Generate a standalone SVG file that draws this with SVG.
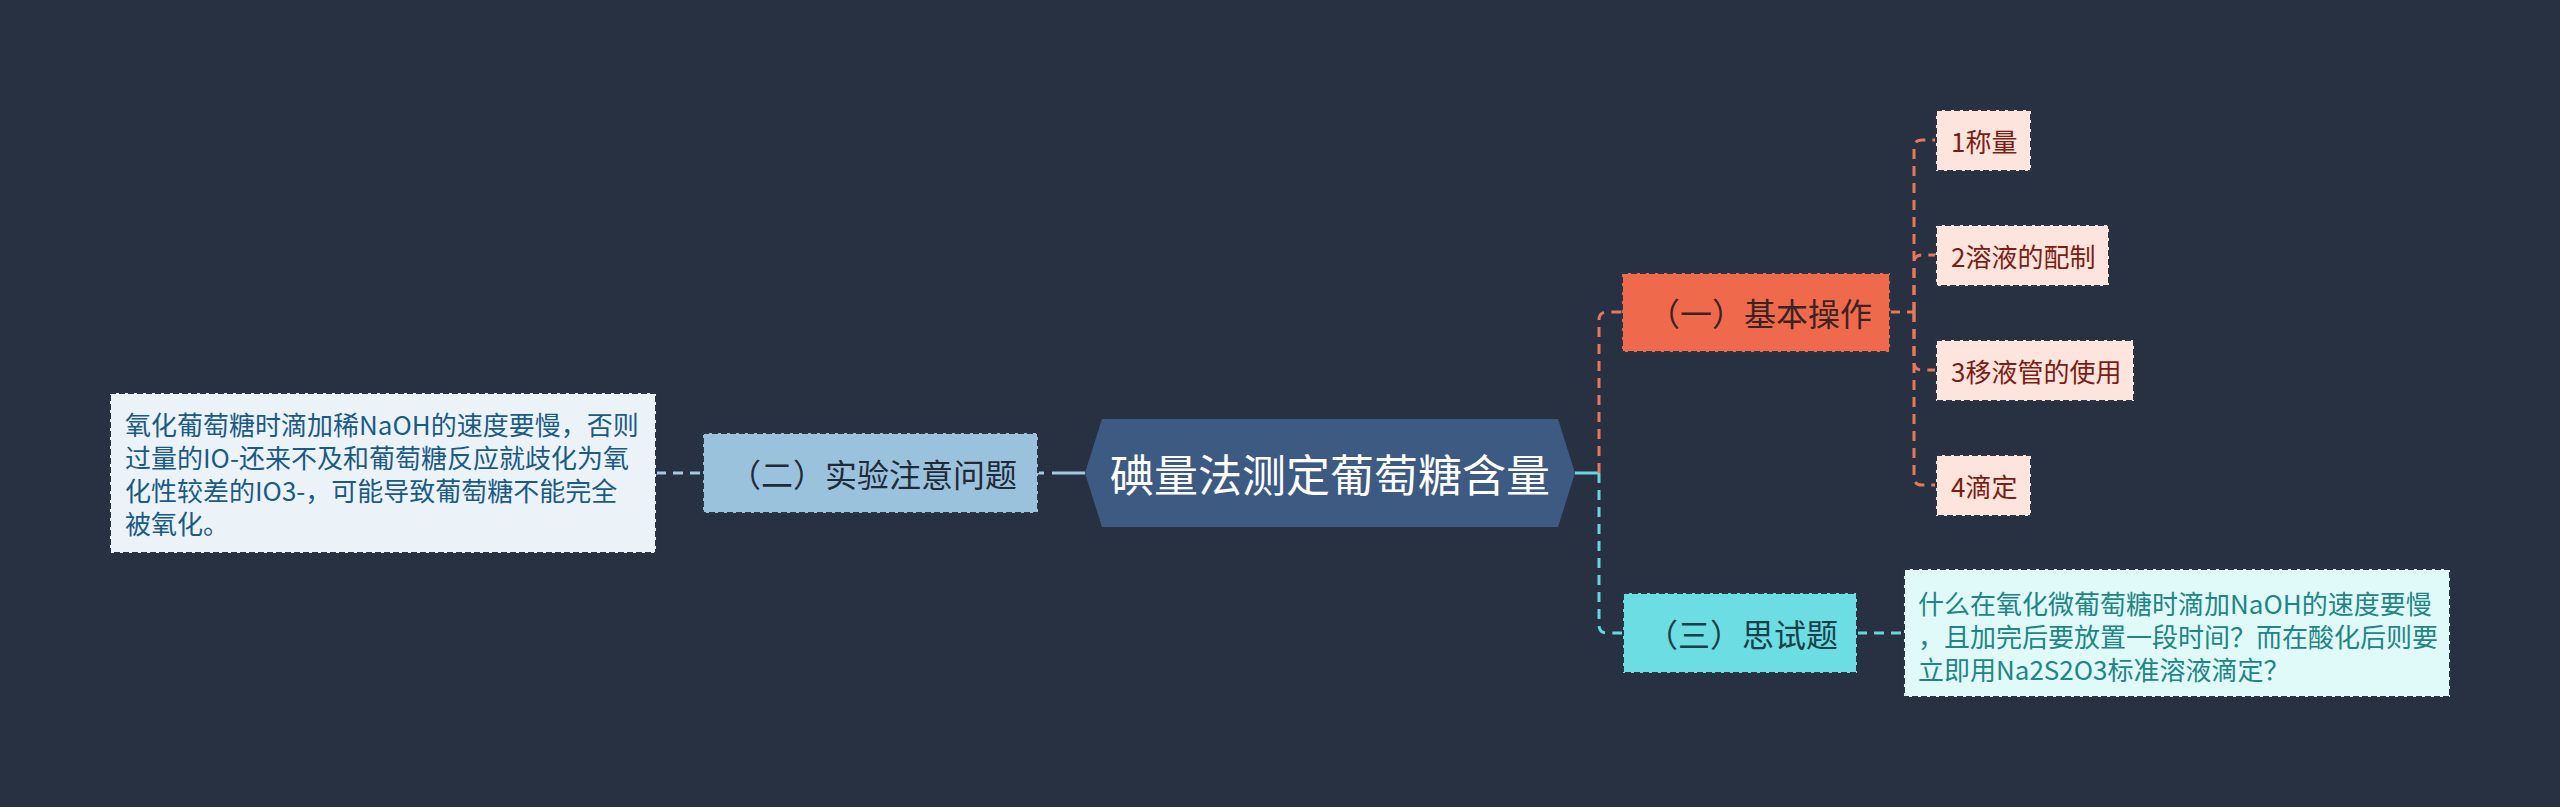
<svg xmlns="http://www.w3.org/2000/svg" width="2560" height="807" viewBox="0 0 2560 807">
<style>
text{font-family:"Noto Sans CJK SC","Noto Sans",sans-serif;dominant-baseline:central}
.box{stroke:#2b3445;stroke-width:2;stroke-dasharray:6 3}
.c{fill:none;stroke-width:3}
.or{stroke:#e8765a;stroke-dasharray:10 7}
.cy{stroke:#62d8de;stroke-dasharray:10 7}
.bl{stroke:#a3c8e2;stroke-dasharray:10 7}
.t32{font-size:32px;text-anchor:middle}
.t26{font-size:26px}
</style>
<rect width="2560" height="807" fill="#283142"/>
<g id="connectors">
<path class="c bl" d="M656,473 H703"/>
<path class="c" stroke="#a3c8e2" stroke-dasharray="6 8 33" d="M1038,473 H1085"/>
<path class="c" stroke="#62d8de" d="M1575,473 H1599"/>
<path class="c or" d="M1599,473 V320 Q1599,312 1607,312 H1622"/>
<path class="c cy" d="M1599,473 V625 Q1599,633 1607,633 H1623"/>
<path class="c or" d="M1890,312 H1914"/>
<path class="c or" d="M1914,312 V148 Q1914,140 1922,140 H1936"/>
<path class="c or" d="M1914,312 V263 Q1914,255 1922,255 H1936"/>
<path class="c or" d="M1914,312 V362 Q1914,370 1922,370 H1936"/>
<path class="c or" d="M1914,312 V477 Q1914,485 1922,485 H1936"/>
<path class="c cy" d="M1857,633 H1904"/>
</g>
<g id="root">
<polygon points="1085,473 1102,419 1558,419 1575,473 1558,527 1102,527" fill="#3d5b82"/>
<text x="1330" y="473" font-size="44" text-anchor="middle" fill="#ffffff">碘量法测定葡萄糖含量</text>
</g>
<g id="n2">
<rect class="box" x="703" y="433" width="335" height="80" fill="#9ac2dc"/>
<text class="t32" x="873" y="473" fill="#1f2b38">（二）实验注意问题</text>
</g>
<g id="n2a">
<rect class="box" x="110" y="393" width="546" height="160" fill="#ebf3f9"/>
<g class="t26" fill="#1c5a86">
<text x="125" y="423">氧化葡萄糖时滴加稀NaOH的速度要慢，否则</text>
<text x="125" y="456">过量的IO-还来不及和葡萄糖反应就歧化为氧</text>
<text x="125" y="489">化性较差的IO3-，可能导致葡萄糖不能完全</text>
<text x="125" y="522">被氧化。</text>
</g>
</g>
<g id="n1">
<rect class="box" x="1622" y="273" width="268" height="79" fill="#ef6a4c"/>
<text class="t32" x="1760" y="312" fill="#3b2420">（一）基本操作</text>
</g>
<g id="n1a">
<rect class="box" x="1936" y="110" width="95" height="61" fill="#fde4dd"/>
<text class="t26" x="1951" y="140" fill="#7b1d14">1称量</text>
</g>
<g id="n1b">
<rect class="box" x="1936" y="225" width="173" height="61" fill="#fde4dd"/>
<text class="t26" x="1951" y="255" fill="#7b1d14">2溶液的配制</text>
</g>
<g id="n1c">
<rect class="box" x="1936" y="340" width="198" height="61" fill="#fde4dd"/>
<text class="t26" x="1951" y="370" fill="#7b1d14">3移液管的使用</text>
</g>
<g id="n1d">
<rect class="box" x="1936" y="455" width="95" height="61" fill="#fde4dd"/>
<text class="t26" x="1951" y="485" fill="#7b1d14">4滴定</text>
</g>
<g id="n3">
<rect class="box" x="1623" y="593" width="234" height="80" fill="#6cdde2"/>
<text class="t32" x="1742" y="633" fill="#18404a">（三）思试题</text>
</g>
<g id="n3a">
<rect class="box" x="1904" y="569" width="546" height="128" fill="#e0f9f9"/>
<g class="t26" fill="#1f8585">
<text x="1918" y="602">什么在氧化微葡萄糖时滴加NaOH的速度要慢</text>
<text x="1918" y="635">，且加完后要放置一段时间？而在酸化后则要</text>
<text x="1918" y="668">立即用Na2S2O3标准溶液滴定？</text>
</g>
</g>
</svg>
